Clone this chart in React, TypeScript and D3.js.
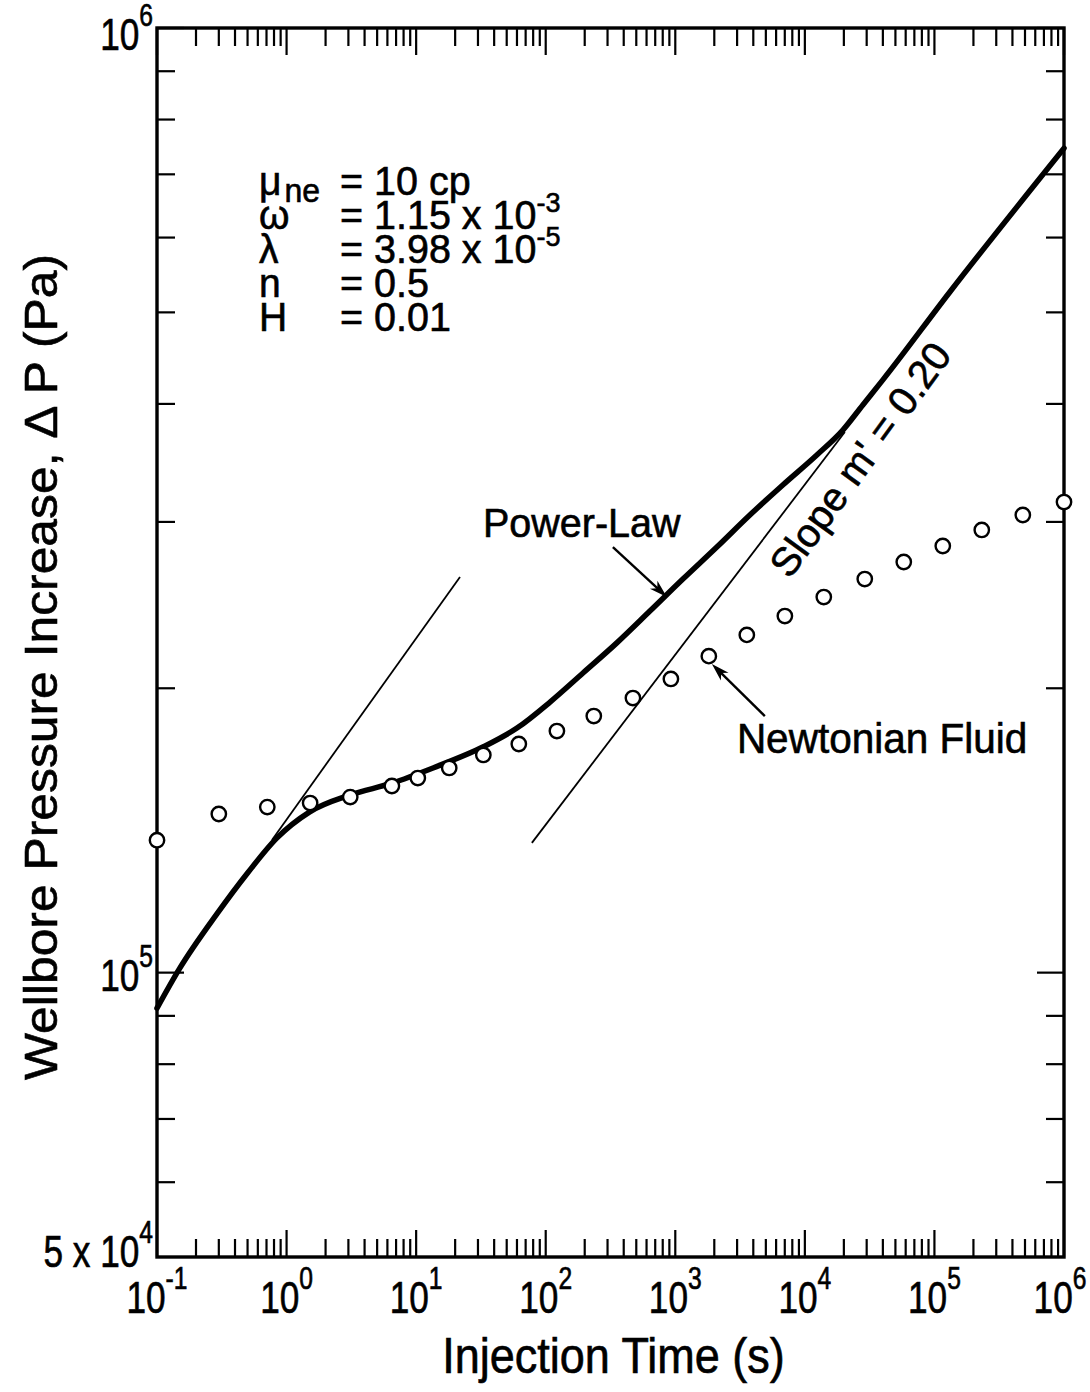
import React from 'react';
import * as d3 from 'd3';

const W = 1090;
const H = 1392;

// Power-law fluid curve (t in s, ΔP in Pa)
const plTime = [0.1, 0.15, 0.29, 0.5, 0.84, 1.5, 3.1, 6.5, 13.5, 33, 60, 108, 194, 354, 637, 1145, 2094, 3765, 6760, 12380, 19650, 28020, 40000, 131500, 1000000];
const plPress = [91700, 101100, 115400, 127500, 138800, 147900, 154200, 158700, 164700, 173400, 181500, 193400, 207600, 223400, 241400, 261000, 282200, 305100, 328300, 353200, 375300, 399000, 424100, 525500, 746000];

// Newtonian fluid points
const nwTime = [0.1, 0.3, 0.71, 1.52, 3.1, 6.5, 10.3, 18, 33, 62, 122, 235, 471, 925, 1815, 3565, 7010, 14000, 29000, 58000, 116000, 232000, 481000, 1000000];
const nwPress = [138100, 147200, 149700, 151200, 153400, 157600, 160700, 164700, 170000, 174600, 180200, 186900, 195300, 204600, 216300, 227800, 238500, 249800, 261000, 272100, 282900, 294200, 305100, 314900];

// Tangent (slope) lines
const tan1Time = [0.772, 21.8];
const tan1Press = [138200, 262300];
const tan2Time = [78.2, 20350];
const tan2Press = [137200, 373500];

const xDecades = [-1, 0, 1, 2, 3, 4, 5, 6];
const yMajor = [1e5, 1e6];
const yMinor = [6e4, 7e4, 8e4, 9e4, 2e5, 3e5, 4e5, 5e5, 6e5, 7e5, 8e5, 9e5];

const params = [
  { sym: 'μ', sub: 'ne', val: '= 10 cp', sup: '' },
  { sym: 'ω', sub: '', val: '= 1.15 x 10', sup: '-3' },
  { sym: 'λ', sub: '', val: '= 3.98 x 10', sup: '-5' },
  { sym: 'n', sub: '', val: '= 0.5', sup: '' },
  { sym: 'H', sub: '', val: '= 0.01', sup: '' },
];

const FONT = '"Liberation Sans", Arial, Helvetica, sans-serif';
const INK = { fill: '#000', stroke: '#000', strokeWidth: 0.6 } as const;

export default function App() {
  const L = 157, R = 1064, T = 28, B = 1257;
  const x = d3.scaleLog().domain([0.1, 1e6]).range([L, R]);
  const y = d3.scaleLog().domain([5e4, 1e6]).range([B, T]);

  const line = d3.line<[number, number]>()
    .x(d => x(d[0]))
    .y(d => y(d[1]))
    .curve(d3.curveMonotoneX);
  const plPath = line(plTime.map((t, i) => [t, plPress[i]]) as [number, number][]) || '';

  const xMinor: number[] = [];
  for (let k = -1; k < 6; k++) for (let m = 2; m <= 9; m++) xMinor.push(m * Math.pow(10, k));

  const majLen = 27, minLen = 18;

  const arrow = (t0: number, p0: number, t1: number, p1: number, key: string) => {
    const x0 = x(t0), y0 = y(p0), x1 = x(t1), y1 = y(p1);
    const dx = x1 - x0, dy = y1 - y0;
    const len = Math.hypot(dx, dy);
    const ux = dx / len, uy = dy / len;
    const hl = 18, hw = 5.5;
    const bx = x1 - ux * hl, by = y1 - uy * hl;
    const pts = `${x1},${y1} ${bx - uy * hw},${by + ux * hw} ${x1 - ux * (hl - 5)},${y1 - uy * (hl - 5)} ${bx + uy * hw},${by - ux * hw}`;
    return (
      <g key={key}>
        <line x1={x0} y1={y0} x2={x1 - ux * 6} y2={y1 - uy * 6} stroke="#000" strokeWidth={2.4} />
        <polygon points={pts} fill="#000" />
      </g>
    );
  };

  // tick-label helper: condensed, stretched digits
  const tickLabel = (px: number, py: number, base: string, sup: string, anchor: 'middle' | 'end', key: string) => (
    <g key={key} transform={`translate(${px},${py}) scale(0.88,1.13)`}>
      <text x={0} y={0} textAnchor={anchor} fontSize={40} {...INK}>
        {base}<tspan dy={-21} fontSize={28}>{sup}</tspan>
      </text>
    </g>
  );

  const slopeX = x(7662), slopeY = y(260400);

  return (
    <svg width={W} height={H} viewBox={`0 0 ${W} ${H}`} style={{ display: 'block', position: 'absolute', left: 0, top: 0, background: '#fff' }} fontFamily={FONT}>
      <rect x={0} y={0} width={W} height={H} fill="#fff" />
      {/* frame */}
      <rect x={L} y={T} width={R - L} height={B - T} fill="none" stroke="#000" strokeWidth={3.4} />

      {/* x ticks bottom & top */}
      {xDecades.map(k => {
        const xv = x(Math.pow(10, k));
        return (
          <g key={'xd' + k}>
            <line x1={xv} x2={xv} y1={B} y2={B - majLen} stroke="#000" strokeWidth={2.2} />
            <line x1={xv} x2={xv} y1={T} y2={T + majLen} stroke="#000" strokeWidth={2.2} />
          </g>
        );
      })}
      {xMinor.map((v, i) => {
        const xv = x(v);
        return (
          <g key={'xm' + i}>
            <line x1={xv} x2={xv} y1={B} y2={B - minLen} stroke="#000" strokeWidth={2.2} />
            <line x1={xv} x2={xv} y1={T} y2={T + minLen} stroke="#000" strokeWidth={2.2} />
          </g>
        );
      })}
      {/* y ticks left & right */}
      {yMajor.map((v, i) => (
        <g key={'ym' + i}>
          <line x1={L} x2={L + majLen} y1={y(v)} y2={y(v)} stroke="#000" strokeWidth={2.2} />
          <line x1={R} x2={R - majLen} y1={y(v)} y2={y(v)} stroke="#000" strokeWidth={2.2} />
        </g>
      ))}
      {yMinor.map((v, i) => (
        <g key={'yn' + i}>
          <line x1={L} x2={L + minLen} y1={y(v)} y2={y(v)} stroke="#000" strokeWidth={2.2} />
          <line x1={R} x2={R - minLen} y1={y(v)} y2={y(v)} stroke="#000" strokeWidth={2.2} />
        </g>
      ))}

      {/* x tick labels */}
      {xDecades.map(k => tickLabel(x(Math.pow(10, k)) - (k === 6 ? 4 : 0), 1313, '10', String(k), 'middle', 'xl' + k))}
      {/* y tick labels */}
      {tickLabel(153, y(1e6) + 22, '10', '6', 'end', 'yl6')}
      {tickLabel(153, y(1e5) + 18, '10', '5', 'end', 'yl5')}
      {tickLabel(153, y(5e4) + 10, '5 x 10', '4', 'end', 'yl4')}

      {/* axis titles */}
      <g transform={`translate(${(L + R) / 2 + 3},1373) scale(1,1.1)`}>
        <text x={0} y={0} textAnchor="middle" fontSize={45} {...INK}>Injection Time (s)</text>
      </g>
      <g transform={`translate(57, 667) rotate(-90) scale(1.06,1)`}>
        <text x={0} y={0} textAnchor="middle" fontSize={47} {...INK}>
          Wellbore Pressure Increase, Δ P (Pa)
        </text>
      </g>

      {/* tangent lines */}
      <line x1={x(tan1Time[0])} y1={y(tan1Press[0])} x2={x(tan1Time[1])} y2={y(tan1Press[1])} stroke="#000" strokeWidth={1.8} />
      <line x1={x(tan2Time[0])} y1={y(tan2Press[0])} x2={x(tan2Time[1])} y2={y(tan2Press[1])} stroke="#000" strokeWidth={1.8} />

      {/* power-law curve */}
      <path d={plPath} fill="none" stroke="#000" strokeWidth={5.5} strokeLinejoin="round" strokeLinecap="round" />

      {/* newtonian points */}
      {nwTime.map((t, i) => (
        <circle key={'c' + i} cx={x(t)} cy={y(nwPress[i])} r={7.2} fill="#fff" stroke="#000" strokeWidth={2.4} />
      ))}

      {/* annotations */}
      <g transform={`translate(${x(32.8)},${y(289200)}) scale(1,1.05)`}>
        <text x={0} y={0} fontSize={39.5} {...INK}>Power-Law</text>
      </g>
      {arrow(330, 282200, 861, 249800, 'a1')}
      <g transform={`translate(${x(2988)},${y(170800)}) scale(1,1.05)`}>
        <text x={0} y={0} fontSize={40.5} {...INK}>Newtonian Fluid</text>
      </g>
      {arrow(4912, 186900, 1916, 212200, 'a2')}
      <g transform={`translate(${slopeX}, ${slopeY}) rotate(-54)`}>
        <text x={0} y={0} fontSize={40} {...INK}>Slope m' = 0.20</text>
      </g>

      {/* parameters */}
      {params.map((p, i) => {
        const by = 195 + i * 34;
        return (
          <g key={'p' + i}>
            <g transform={`translate(259,${by}) scale(1,1.05)`}>
              <text x={0} y={0} fontSize={39} {...INK}>
                {p.sym}
                {p.sub ? <tspan dx={3} dy={7} fontSize={32}>{p.sub}</tspan> : null}
              </text>
            </g>
            <g transform={`translate(340,${by}) scale(1,1.05)`}>
              <text x={0} y={0} fontSize={39.5} {...INK}>
                {p.val}
                {p.sup ? <tspan dy={-16} fontSize={27}>{p.sup}</tspan> : null}
              </text>
            </g>
          </g>
        );
      })}
    </svg>
  );
}
